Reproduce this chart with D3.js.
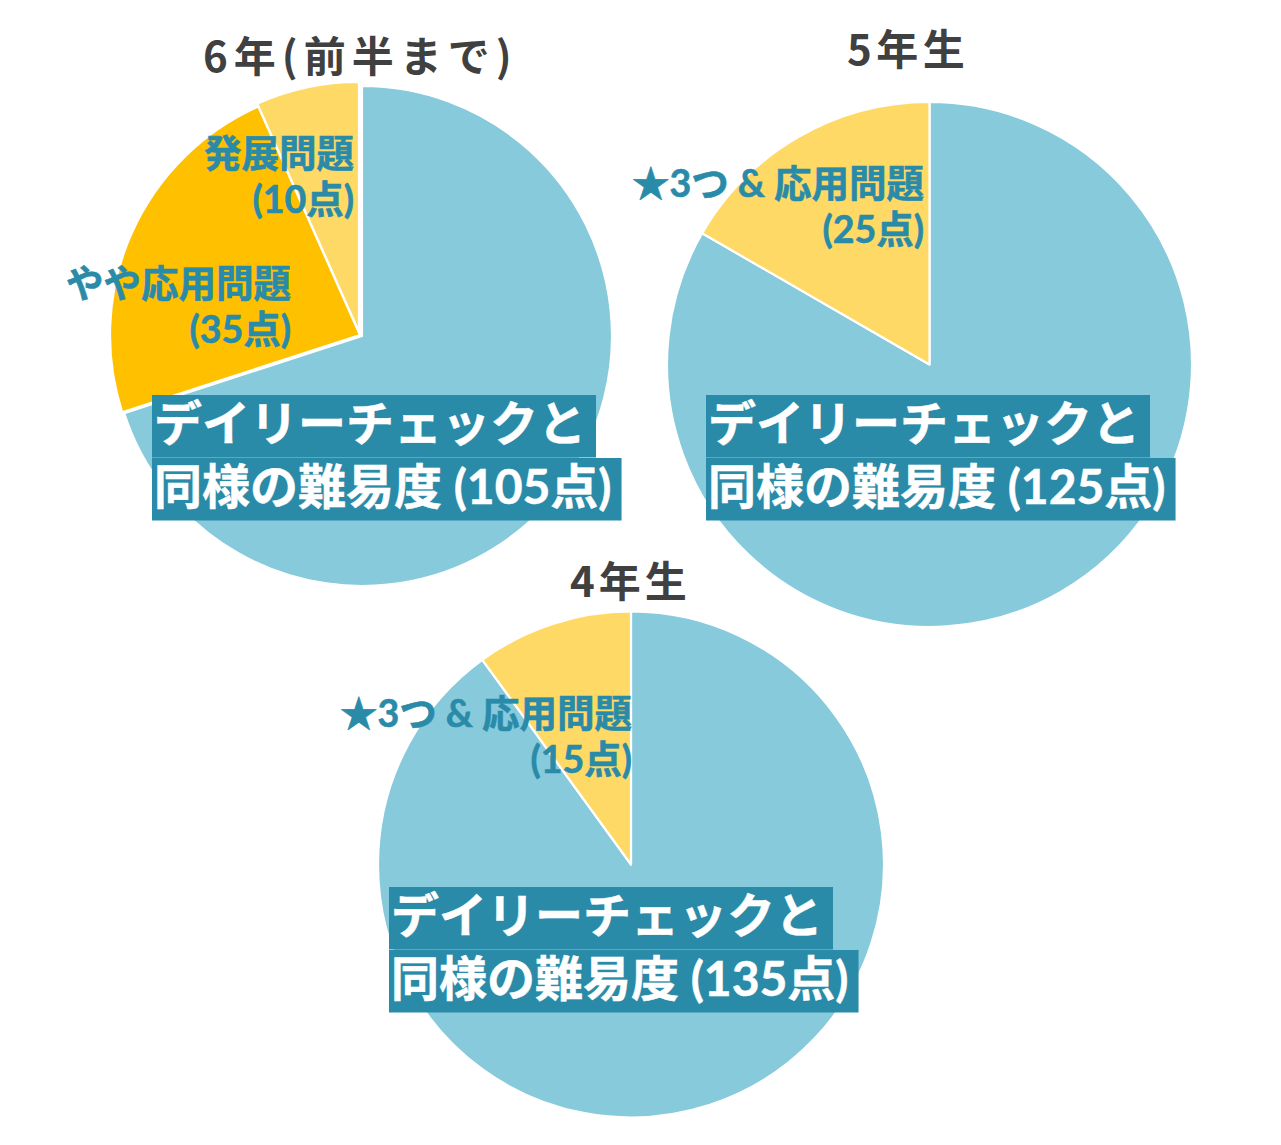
<!DOCTYPE html>
<html>
<head>
<meta charset="utf-8">
<script src="https://cdn.jsdelivr.net/npm/d3@7"></script>
<style>
  html, body { margin: 0; padding: 0; background: #fff; }
  svg { display: block; }
</style>
</head>
<body>
<svg id="chart" width="1281" height="1145"></svg>
<script>
// ---------- DATA ----------
const chartTitles = ["6年(前半まで)", "5年生", "4年生"];

const grade6Names  = ["デイリーチェックと|同様の難易度", "やや応用問題", "発展問題"];
const grade6Values = [105, 35, 10];

const grade5Names  = ["デイリーチェックと|同様の難易度", "★3つ & 応用問題"];
const grade5Values = [125, 25];

const grade4Names  = ["デイリーチェックと|同様の難易度", "★3つ & 応用問題"];
const grade4Values = [135, 15];

const unitLabel = "点";

// ---------- STYLE / LAYOUT ----------
const C = {
  blue: "#86CADC",
  orange: "#FFC000",
  yellow: "#FFD966",
  teal: "#2A8BA9",
  title: "#404040"
};
const cjk = "'Noto Sans CJK JP', sans-serif";
const mixed = "Lato, 'Noto Sans CJK JP', sans-serif";

const layouts = [
  { cx: 362, cy: 336, r: 250,
    colors: [C.blue, C.orange, C.yellow],
    offsets: [[0,0], [-2,-1], [-3,-4]],
    title: { x: 203, y: 72, ls: 6 },
    big: { x: 152, y1: 441 },
    small: [null, { x: 291, y: 297 }, { x: 354, y: 167 }] },
  { cx: 929.5, cy: 364.5, r: 262.5,
    colors: [C.blue, C.yellow],
    offsets: [[0,0], [0,0]],
    title: { x: 847, y: 65, ls: 4.5 },
    big: { x: 706, y1: 441 },
    small: [null, { x: 924, y: 197 }] },
  { cx: 631, cy: 864.5, r: 253,
    colors: [C.blue, C.yellow],
    offsets: [[0,0], [0,0]],
    title: { x: 570, y: 597, ls: 4 },
    big: { x: 389, y1: 933 },
    small: [null, { x: 632, y: 727 }] }
];

const datasets = [
  { names: grade6Names, values: grade6Values },
  { names: grade5Names, values: grade5Values },
  { names: grade4Names, values: grade4Values }
];

const svg = d3.select("#chart");
const pie = d3.pie().sort(null).value(d => d.value);

datasets.forEach((ds, i) => {
  const L = layouts[i];
  const items = ds.values.map((v, k) => ({ name: ds.names[k], value: v, k }));
  const arcs = pie(items);
  const arc = d3.arc().innerRadius(0).outerRadius(L.r);

  const g = svg.append("g").attr("transform", `translate(${L.cx},${L.cy})`);

  // slices
  g.selectAll("path.slice")
    .data(arcs)
    .join("path")
    .attr("class", "slice")
    .attr("d", arc)
    .attr("transform", d => `translate(${L.offsets[d.index][0]},${L.offsets[d.index][1]})`)
    .attr("fill", d => L.colors[d.index])
    .attr("stroke", "#fff")
    .attr("stroke-width", 2.2)
    .attr("stroke-linejoin", "round");

  // title
  svg.append("text")
    .attr("x", L.title.x)
    .attr("y", L.title.y)
    .attr("font-family", cjk)
    .attr("font-weight", 700)
    .attr("font-size", 42)
    .attr("letter-spacing", L.title.ls)
    .attr("fill", C.title)
    .text(chartTitles[i]);

  // small slice labels
  arcs.forEach(a => {
    const pos = L.small[a.index];
    if (!pos) return;
    const t = svg.append("text")
      .attr("font-family", mixed)
      .attr("font-weight", 700)
      .attr("font-size", 37.5)
      .attr("fill", C.teal)
      .attr("stroke", C.teal)
      .attr("stroke-width", 0.6)
      .attr("text-anchor", "end");
    t.append("tspan").attr("x", pos.x).attr("y", pos.y).text(a.data.name);
    t.append("tspan").attr("x", pos.x).attr("y", pos.y + 46).text(`(${a.data.value}${unitLabel})`);
  });

  // big label with per-line highlight boxes
  const main = arcs[0].data;
  const parts = main.name.split("|");
  const lines = [parts[0], `${parts[1]} (${main.value}${unitLabel})`];
  const bg = svg.append("g");
  const fg = svg.append("g");
  lines.forEach((ln, li) => {
    const y = L.big.y1 + li * 63;
    const t = fg.append("text")
      .attr("x", L.big.x + 2)
      .attr("y", y)
      .attr("font-family", mixed)
      .attr("font-weight", 700)
      .attr("font-size", 48)
      .attr("fill", "#fff")
      .attr("stroke", "#fff")
      .attr("stroke-width", 0.5)
      .text(ln);
    const w = t.node().getComputedTextLength();
    bg.append("rect")
      .attr("x", L.big.x)
      .attr("y", y - 46)
      .attr("width", w + 12)
      .attr("height", 62.5)
      .attr("fill", C.teal);
  });
});
</script>
</body>
</html>
